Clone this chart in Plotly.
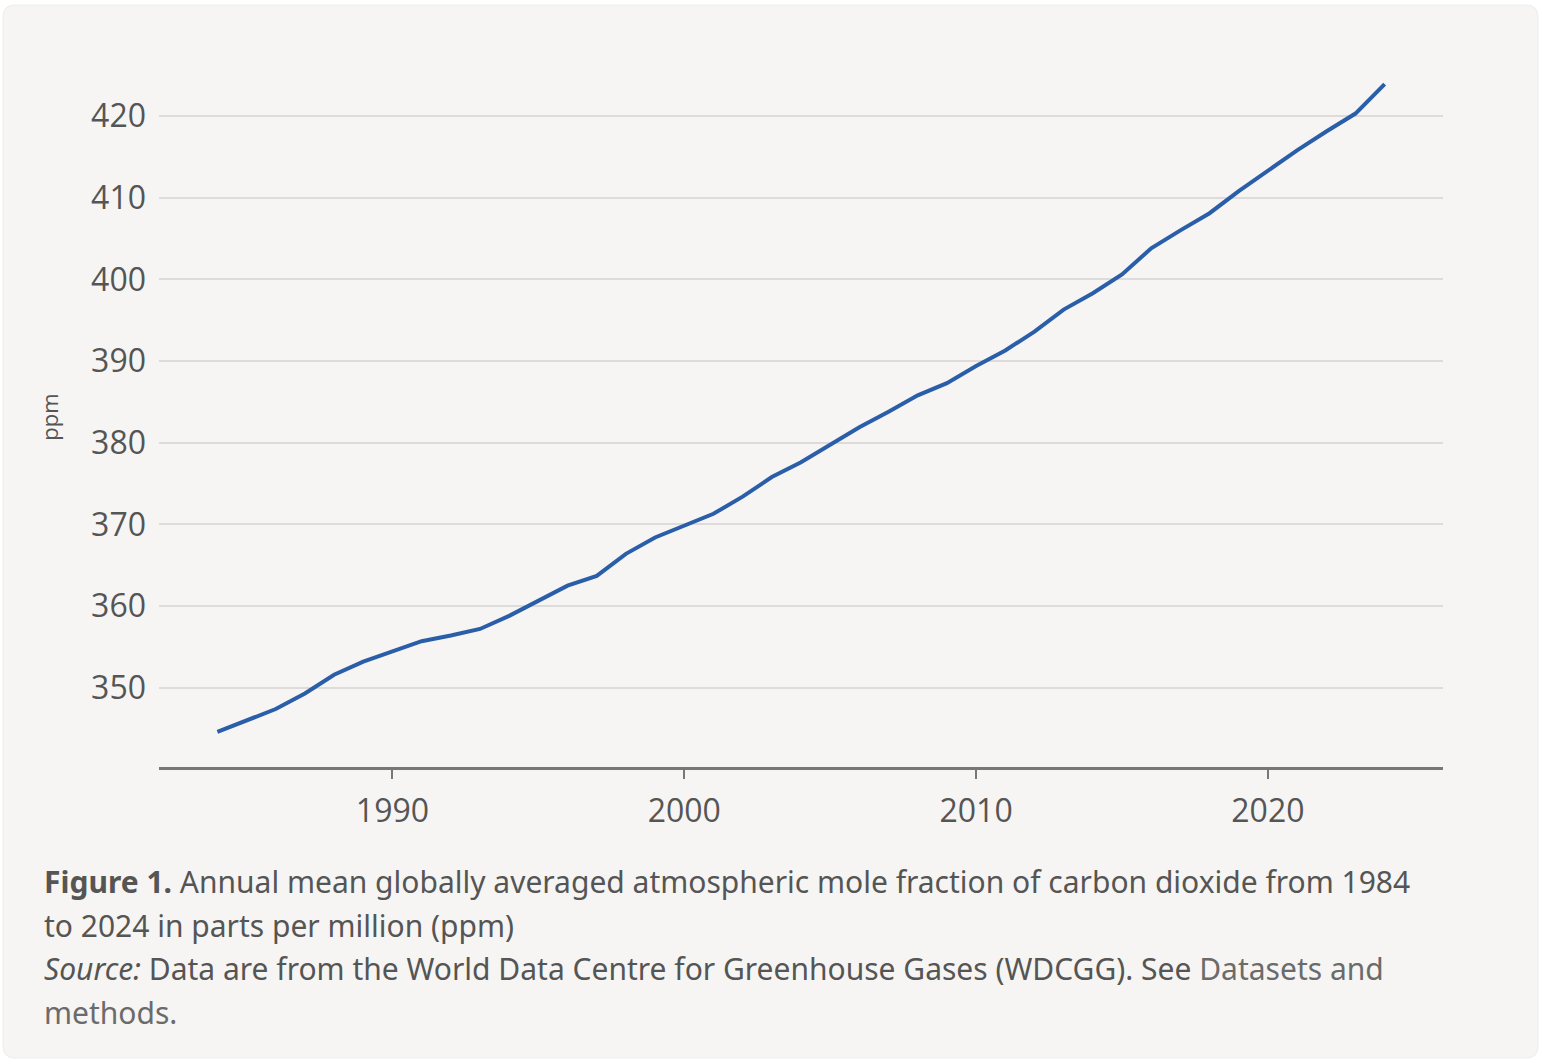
"""
Annual mean globally averaged CO2 mole fraction, 1984-2024 (WDCGG).
"""
import plotly.graph_objects as go

# --- data -------------------------------------------------------------
years = list(range(1984, 2025))
co2_ppm = [
    344.6, 346.0, 347.4, 349.3, 351.6, 353.2, 354.4, 355.7, 356.4, 357.2,
    358.8, 360.7, 362.5, 363.7, 366.4, 368.4, 369.8, 371.3, 373.4, 375.8,
    377.6, 379.7, 381.9, 383.8, 385.8, 387.3, 389.4, 391.3, 393.6, 396.3,
    398.3, 400.6, 403.8, 406.0, 408.1, 410.8, 413.3, 415.8, 418.1, 420.3,
    423.9,
]
y_ticks = [350, 360, 370, 380, 390, 400, 410, 420]
x_ticks = [1990, 2000, 2010, 2020]

caption_lines = [
    "<b>Figure 1.</b> Annual mean globally averaged atmospheric mole fraction of carbon dioxide from 1984",
    "to 2024 in parts per million (ppm)",
    "<i>Source:</i> Data are from the World Data Centre for Greenhouse Gases (WDCGG). See "
    "<span style='color:#6b6b6b'>Datasets and</span>",
    "<span style='color:#6b6b6b'>methods.</span>",
]

# --- layout constants (pixels) ----------------------------------------
W, H = 1542, 1064
ML, MR, MT, MB = 159, 99, 67, 297
PW, PH = W - ML - MR, H - MT - MB

TEXT = "#555555"
CARD = "#f6f5f3"
LINE = "#2a5ea8"


def px_x(px):
    return (px - ML) / PW


def px_y(py):
    return (H - MB - py) / PH


fig = go.Figure()
fig.add_trace(go.Scatter(
    x=years,
    y=co2_ppm,
    mode="lines",
    line=dict(color=LINE, width=4),
    hoverinfo="x+y",
    showlegend=False,
))

# rounded card behind the whole figure
x0, x1, y0, y1, r = px_x(3), px_x(1538), px_y(1058), px_y(5), 12
rx, ry = r / PW, r / PH
card_path = (
    f"M {x0 + rx} {y0} L {x1 - rx} {y0} Q {x1} {y0} {x1} {y0 + ry} "
    f"L {x1} {y1 - ry} Q {x1} {y1} {x1 - rx} {y1} "
    f"L {x0 + rx} {y1} Q {x0} {y1} {x0} {y1 - ry} "
    f"L {x0} {y0 + ry} Q {x0} {y0} {x0 + rx} {y0} Z"
)
fig.add_shape(type="path", path=card_path, xref="paper", yref="paper",
              fillcolor=CARD, line=dict(color="#ededeb", width=1), layer="below")

line_y = [881, 925, 968, 1012]
for text, py in zip(caption_lines, line_y):
    fig.add_annotation(
        text=text, x=px_x(42), y=px_y(py), xref="paper", yref="paper",
        xanchor="left", yanchor="middle", showarrow=False, align="left",
        font=dict(family="Noto Sans", size=30, color=TEXT),
    )

fig.update_layout(
    width=W,
    height=H,
    margin=dict(l=ML, r=MR, t=MT, b=MB),
    paper_bgcolor="white",
    plot_bgcolor=CARD,
    font=dict(family="Open Sans", color=TEXT),
    xaxis=dict(
        range=[1982, 2026],
        tickvals=x_ticks,
        ticks="outside",
        ticklen=9,
        tickwidth=1.5,
        tickcolor="#777777",
        ticklabelstandoff=5,
        showline=True,
        linecolor="#777777",
        linewidth=2.5,
        showgrid=False,
        zeroline=False,
        tickfont=dict(size=32, color=TEXT),
    ),
    yaxis=dict(
        range=[340.3, 426],
        tickvals=y_ticks,
        showgrid=True,
        gridcolor="#dedcda",
        gridwidth=2,
        zeroline=False,
        showline=False,
        ticks="",
        ticklabelstandoff=12,
        tickfont=dict(size=32, color=TEXT),
        title=dict(text="ppm", standoff=26, font=dict(size=22, color=TEXT)),
    ),
)

# drop the default body margin so the figure sits at the page origin
fig.write_html(
    "out.html",
    config={"displayModeBar": False},
    post_script="document.body.style.margin='0';",
)
